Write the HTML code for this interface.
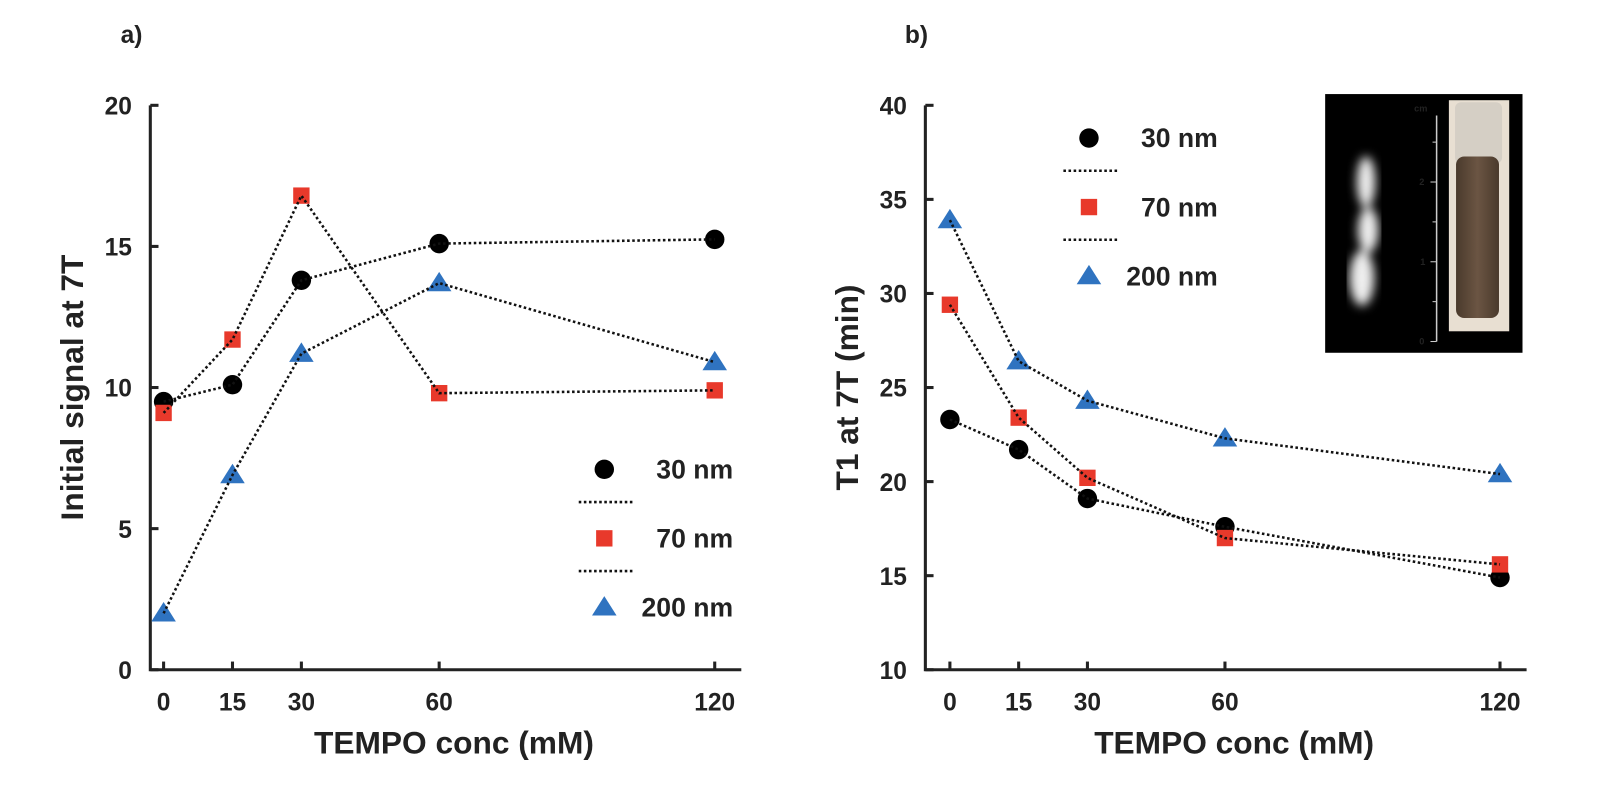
<!DOCTYPE html>
<html><head><meta charset="utf-8"><style>
body{margin:0;background:#fff;}
svg text{font-family:"Liberation Sans",sans-serif;font-weight:bold;fill:#222;}
</style></head><body>
<svg width="1600" height="784" xmlns="http://www.w3.org/2000/svg">
<defs><filter id="bl"><feGaussianBlur stdDeviation="5"/></filter>
<linearGradient id="tg" x1="0" x2="1"><stop offset="0" stop-color="#4a3a2c"/><stop offset="0.5" stop-color="#6b5543"/><stop offset="1" stop-color="#4a3a2c"/></linearGradient></defs>
<g id="s" transform="scale(1.0225)">
<text x="118" y="42" font-size="24">a)</text>
<text x="885" y="42" font-size="24">b)</text>
<g id="inset">
<rect x="1296" y="92" width="193" height="253" fill="#000"/>
<g filter="url(#bl)" fill="#eee"><ellipse cx="1336" cy="178" rx="9" ry="25"/><ellipse cx="1338" cy="225" rx="10" ry="22"/><ellipse cx="1332" cy="272" rx="12" ry="27"/></g>
<line x1="1405" y1="113" x2="1405" y2="334" stroke="#ccc" stroke-width="1.5"/>
<g stroke="#ccc"><line x1="1399" y1="334" x2="1405" y2="334"/><line x1="1401" y1="295" x2="1405" y2="295"/><line x1="1399" y1="256" x2="1405" y2="256"/><line x1="1401" y1="217" x2="1405" y2="217"/><line x1="1399" y1="178" x2="1405" y2="178"/><line x1="1401" y1="139" x2="1405" y2="139"/></g>
<g font-size="9" style="font-weight:normal"><text x="1388" y="337" fill="#ddd">0</text><text x="1389" y="259" fill="#ddd">1</text><text x="1388" y="181" fill="#ddd">2</text><text x="1383" y="109" fill="#ddd">cm</text></g>
<rect x="1417" y="98" width="59" height="226" fill="#e8dfd2"/>
<rect x="1423" y="100" width="46" height="60" rx="6" fill="#d5cfc5"/>
<rect x="1424" y="153" width="42" height="158" rx="8" fill="url(#tg)"/>
</g>
</g>
</svg>
<script>
// Panel A data
const xCats=[0,15,30,60,120];
const xTickLabels=["0","15","30","60","120"];
const aTicks=[0,5,10,15,20];
const a30=[9.5,10.1,13.8,15.1,15.25];
const a70=[9.1,11.7,16.8,9.8,9.9];
const a200=[2.0,6.9,11.2,13.7,10.9];
// Panel B data
const bTicks=[10,15,20,25,30,35,40];
const b30=[23.3,21.7,19.1,17.6,14.9];
const b70=[29.4,23.4,20.2,17.0,15.6];
const b200=[33.9,26.4,24.3,22.3,20.4];
const seriesNames=["30 nm","70 nm","200 nm"];

const svg=document.getElementById('s');
const NS='http://www.w3.org/2000/svg';
function mk(tag,at,parent){const e=document.createElementNS(NS,tag);for(const k in at)e.setAttribute(k,at[k]);(parent||svg).appendChild(e);return e;}

function marker(kind,x,y,g){
  let e;
  if(kind===0)e=mk('circle',{cx:x,cy:y,r:9.5,fill:'#000'},g);
  else if(kind===1)e=mk('rect',{x:x-8,y:y-8,width:16,height:16,fill:'#e8392b'},g);
  else e=mk('polygon',{points:`${x},${y-11} ${x+12},${y+8} ${x-12},${y+8}`,fill:'#2f73c0'},g);
  return e;
}

function panel(o){
  const X=v=>o.x0+(v-0)/(120-0)*(o.x1-o.x0);
  const Y=v=>o.yb-(v-o.ymin)/(o.ymax-o.ymin)*(o.yb-o.yt);
  const g=mk('g',{});
  
  
  const ax=mk('path',{d:`M${o.ax},${o.yt} V${o.yb} H${o.axEnd}`,stroke:'#222','stroke-width':3,fill:'none'},g);
  
  
  o.ticks.forEach(t=>{
    mk('line',{x1:o.ax,x2:o.ax+8,y1:Y(t),y2:Y(t),stroke:'#222','stroke-width':3},g);
    const tx=mk('text',{x:o.ax-18,y:Y(t)+9,'font-size':24,'text-anchor':'end'},g);tx.textContent=t;
    
    
  });
  xCats.forEach((c,i)=>{
    mk('line',{x1:X(c),x2:X(c),y1:o.yb,y2:o.yb-8,stroke:'#222','stroke-width':3},g);
    const tx=mk('text',{x:X(c),y:o.yb+40,'font-size':24,'text-anchor':'middle'},g);tx.textContent=xTickLabels[i];
    
    
  });
  const xt=mk('text',{x:(o.ax+o.axEnd)/2+8,y:o.yb+82,'font-size':31,'text-anchor':'middle'},g);xt.textContent='TEMPO conc (mM)';
  
  
  const yt=mk('text',{x:0,y:0,'font-size':31,'text-anchor':'middle',transform:`translate(${o.ax-66},${(o.yt+o.yb)/2}) rotate(-90)`},g);yt.textContent=o.ytitle;
  
  
  o.series.forEach((s,k)=>{
    const sg=mk('g',{},g);
    
    
    const pts=s.map((v,i)=>X(xCats[i])+','+Y(v)).join(' ');
    s.forEach((v,i)=>{const m=marker(k,X(xCats[i]),Y(v),sg);
      
      });
    mk('polyline',{points:pts,fill:'none',stroke:'#111','stroke-width':2.5,'stroke-dasharray':'2.5 2.5'},sg);
  });
  const lg=mk('g',{},g);
  
  
  seriesNames.forEach((n,k)=>{
    const y=o.ly+k*67.5;
    marker(k,o.lx,y,lg);
    const t=mk('text',{x:o.lx+o.tw,y:y+9,'font-size':26,'text-anchor':'end'},lg);t.textContent=n;
    
    
    if(k<2)mk('line',{x1:o.lx-25,x2:o.lx+30,y1:y+32,y2:y+32,stroke:'#111','stroke-width':2.5,'stroke-dasharray':'2.5 2.5'},lg);
  });
}
panel({name:'panel-a',x0:160,x1:699,ax:147,axEnd:725,yt:103,yb:655,ymin:0,ymax:20,ticks:aTicks,ytitle:'Initial signal at 7T',series:[a30,a70,a200],lx:591,ly:459,tw:126});
panel({name:'panel-b',x0:929,x1:1467,ax:905,axEnd:1493,yt:103,yb:655,ymin:10,ymax:40,ticks:bTicks,ytitle:'T1 at 7T (min)',series:[b30,b70,b200],lx:1065,ly:135,tw:126});
svg.appendChild(document.getElementById('inset'));
</script>
</body></html>
